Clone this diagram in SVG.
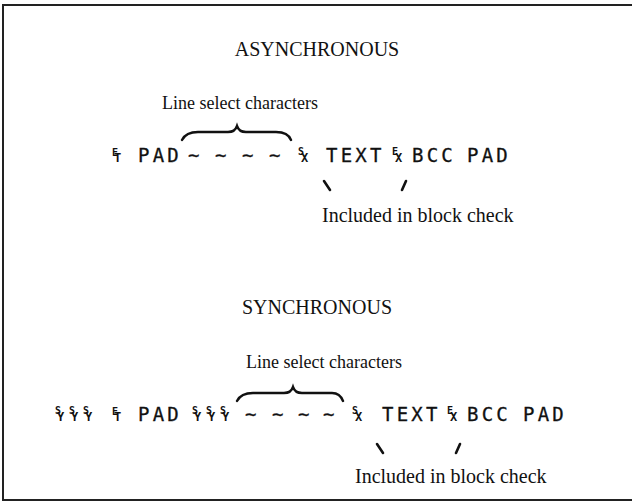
<svg xmlns="http://www.w3.org/2000/svg" xmlns:xlink="http://www.w3.org/1999/xlink" width="632" height="502" viewBox="0 0 632 502">
<style>
.serif{font-family:"Liberation Serif","Times New Roman",serif;font-size:18px;fill:#111}
.inc{font-family:"Liberation Serif","Times New Roman",serif;font-size:20px;fill:#111}
.title{font-family:"Liberation Serif","Times New Roman",serif;font-size:20px;fill:#111}
.mono{font-family:"DejaVu Sans Mono",monospace;font-size:19px;letter-spacing:3.2px;fill:#111;stroke:#111;stroke-width:0.3}
.sm{font-family:"DejaVu Sans Mono",monospace;font-size:10px;font-weight:bold;fill:#111}
.smb{font-family:"DejaVu Sans Mono",monospace;font-size:12px;font-weight:bold;fill:#111}
.brace{fill:none;stroke:#111;stroke-width:2.4;stroke-linecap:round}
.mark{stroke:#111;stroke-width:2.6;stroke-linecap:round}
.frame{stroke:#222;stroke-width:2;fill:none}
</style>
<defs>
<g id="stx"><text class="sm" x="0" y="-7">S</text><text class="smb" x="3" y="0">X</text></g>
<g id="etx"><text class="sm" x="0" y="-7">E</text><text class="smb" x="3" y="0">X</text></g>
<g id="eot"><text class="sm" x="0" y="-6">E</text><text class="smb" x="2" y="0">T</text></g>
<g id="syn"><text class="sm" x="0" y="-7">S</text><text class="smb" x="2" y="0">Y</text></g>
<g id="syn3"><use xlink:href="#syn"/><use xlink:href="#syn" x="14"/><use xlink:href="#syn" x="28"/></g>
</defs>
<g id="frame"><path class="frame" d="M2,5 H632 M3,5 V500 M2,500 H632"/></g>

<g id="async">
<text class="title" x="317" y="56" text-anchor="middle">ASYNCHRONOUS</text>
<text class="serif" x="240" y="109" text-anchor="middle">Line select characters</text>
<use xlink:href="#eot" x="112" y="162"/>
<text class="mono" x="138" y="162">PAD</text>
<text class="mono" x="188" y="162">~</text>
<text class="mono" x="215" y="162">~</text>
<text class="mono" x="242" y="162">~</text>
<text class="mono" x="269" y="162">~</text>
<use xlink:href="#stx" x="298" y="162"/>
<text class="mono" x="326" y="162">TEXT</text>
<use xlink:href="#etx" x="392" y="162"/>
<text class="mono" x="412" y="162">BCC</text>
<text class="mono" x="467" y="162">PAD</text>
<text class="inc" x="322" y="222">Included in block check</text>
</g>

<g id="sync">
<text class="title" x="317" y="314" text-anchor="middle">SYNCHRONOUS</text>
<text class="serif" x="324" y="368" text-anchor="middle">Line select characters</text>
<use xlink:href="#syn3" x="55" y="421"/>
<use xlink:href="#eot" x="112" y="421"/>
<text class="mono" x="138" y="421">PAD</text>
<use xlink:href="#syn3" x="192" y="421"/>
<text class="mono" x="245" y="421">~</text>
<text class="mono" x="272" y="421">~</text>
<text class="mono" x="298" y="421">~</text>
<text class="mono" x="323" y="421">~</text>
<use xlink:href="#stx" x="352" y="421"/>
<text class="mono" x="382" y="421">TEXT</text>
<use xlink:href="#etx" x="447" y="421"/>
<text class="mono" x="467" y="421">BCC</text>
<text class="mono" x="523" y="421">PAD</text>
<text class="inc" x="355" y="483">Included in block check</text>
</g>

<g id="connectors">
<path class="brace" d="M182,140 Q186,132 198,132 L228,132 Q235,132 237,126 Q239,132 246,132 L276,132 Q288,132 291,140"/>
<line class="mark" x1="324" y1="181" x2="330" y2="190"/>
<line class="mark" x1="406" y1="181" x2="402" y2="190"/>
<path class="brace" d="M237,401 Q241,393 253,393 L284,393 Q291,393 293,387 Q295,393 302,393 L332,393 Q340,393 343,401"/>
<line class="mark" x1="377" y1="444" x2="383" y2="453"/>
<line class="mark" x1="460" y1="444" x2="456" y2="453"/>
</g>
</svg>
